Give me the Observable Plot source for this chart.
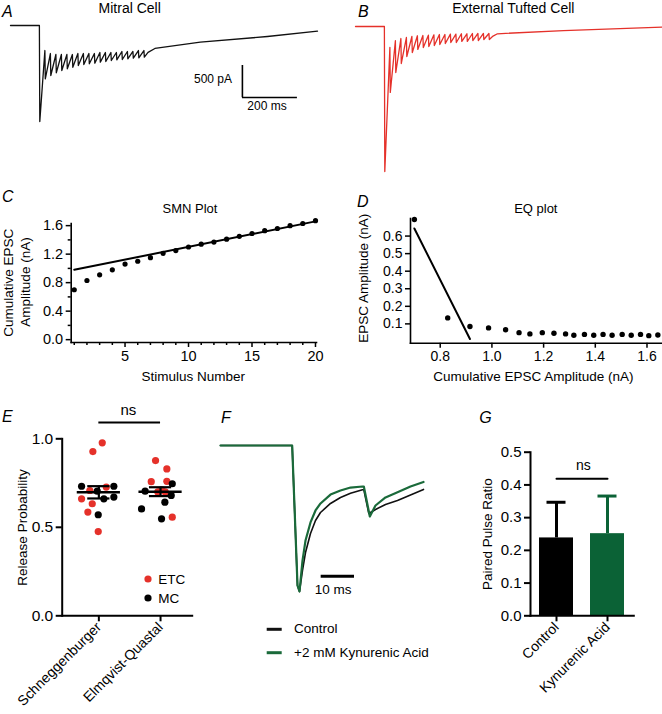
<!DOCTYPE html>
<html><head><meta charset="utf-8">
<script src="https://cdn.jsdelivr.net/npm/d3@7"></script>
<script src="https://cdn.jsdelivr.net/npm/@observablehq/plot@0.6"></script>
<style>
html,body{margin:0;padding:0;background:#fff;}
#fig{position:relative;width:662px;height:714px;overflow:hidden;background:#fff;}
</style></head><body><div id="fig"></div>
<script>
// ---------- DATA ----------
// A / B : EPSC trains (ms, pA)
const traceStart = -105;
const stimTimes = [0,20,40,60,80,100,120,140,160,180,200,220,240,260,280,300,320,340,360,380];
const mitralPreStim = [0,-391,-438,-453,-453,-453,-453,-438,-438,-438,-438,-422,-422,-422,-422,-406,-406,-406,-391,-391];
const mitralTrough = [-1500,-833,-781,-739,-703,-677,-652,-625,-609,-598,-589,-573,-563,-547,-536,-531,-520,-511,-505,-495];
const mitralTailT = [395,420,585,829,1011];
const mitralTailI = [-420,-359,-261,-172,-89];
const tuftedPreStim = [0,-328,-223,-188,-172,-156,-145,-141,-136,-130,-125,-125,-120,-120,-114,-114,-109,-109,-109,-109];
const tuftedTrough = [-2266,-1031,-719,-578,-469,-406,-359,-328,-313,-297,-281,-266,-250,-250,-234,-234,-219,-219,-203,-203];
const tuftedTailT = [395,411,651,1011];
const tuftedTailI = [-150,-114,-63,-8];
const scaleBarMs = 200, scaleBarPA = 500;

// C : SMN plot
const stimulusNumber = [1,2,3,4,5,6,7,8,9,10,11,12,13,14,15,16,17,18,19,20];
const cumulativeAmp = [0.70,0.83,0.91,0.98,1.06,1.10,1.15,1.21,1.25,1.30,1.34,1.37,1.41,1.45,1.49,1.53,1.56,1.60,1.63,1.67];
const smnFitX = [1,20];
const smnFitY = [0.98,1.66];
const cTicksY = [0,0.4,0.8,1.2,1.6];
const cMinorY = [0.2,0.6,1.0,1.4];
const cTicksX = [5,10,15,20];
const cMinorX = [1,2,3,4,6,7,8,9,11,12,13,14,16,17,18,19];

// D : EQ plot
const eqCumAmp = [0.700,0.829,0.915,0.987,1.053,1.105,1.147,1.195,1.240,1.285,1.317,1.358,1.394,1.430,1.465,1.504,1.539,1.575,1.607,1.642];
const eqEpscAmp = [0.694,0.134,0.085,0.077,0.067,0.050,0.043,0.050,0.047,0.043,0.035,0.040,0.035,0.040,0.035,0.040,0.035,0.040,0.033,0.037];
const eqFitX = [0.700,0.915];
const eqFitY = [0.643,0.014];
const dTicksY = [0.1,0.2,0.3,0.4,0.5,0.6];
const dTicksX = [0.8,1.0,1.2,1.4,1.6];

// E : release probability
const eCategories = ["Schneggenburger","Elmqvist-Quastal"];
const schneggP = [0.977,0.928,0.732,0.708,0.727,0.732,0.704,0.661,0.633,0.661,0.671,0.586,0.571,0.476];
const schneggCell = ["ETC","ETC","MC","ETC","ETC","MC","MC","ETC","ETC","MC","MC","ETC","MC","ETC"];
const schneggJitter = [0.055,-0.097,-0.28,-0.146,0.12,0.243,-0.026,-0.28,-0.107,0.081,0.243,-0.178,-0.01,-0.01];
const elmqvistP = [0.877,0.830,0.758,0.760,0.746,0.704,0.700,0.700,0.712,0.680,0.642,0.604,0.548,0.557];
const elmqvistCell = ["ETC","ETC","ETC","ETC","MC","MC","ETC","ETC","ETC","MC","MC","MC","MC","ETC"];
const elmqvistJitter = [-0.081,0.102,-0.151,0.102,0.19,-0.25,-0.044,0.076,0.02,0.173,0.07,-0.308,0.016,0.19];
const eTicksY = [0,0.5,1.0];
const eNsLevel = 1.092;

// F : paired EPSCs (ms, normalized amplitude)
const controlT = [-21.5,0,1.6,2.2,3.1,4.0,5.5,7.0,8.5,11.5,14.5,17.5,21.1,21.5,23.0,25.0,28.0,31.6,35.5,39.4];
const controlI = [0,0,-0.959,-1.0,-0.856,-0.733,-0.603,-0.514,-0.459,-0.397,-0.356,-0.327,-0.303,-0.303,-0.466,-0.438,-0.404,-0.377,-0.339,-0.301];
const kynT = [-21.5,0,1.6,2.2,3.1,4.0,5.5,7.0,8.5,11.5,14.5,17.5,21.1,21.5,23.3,25.0,28.0,31.6,35.5,39.4];
const kynI = [0,0,-0.959,-1.0,-0.788,-0.651,-0.527,-0.445,-0.397,-0.336,-0.308,-0.288,-0.281,-0.281,-0.486,-0.411,-0.356,-0.320,-0.281,-0.250];
const fScaleMs = 10;

// G : paired pulse ratio
const gCategories = ["Control","Kynurenic Acid"];
const pprMean = [0.238,0.251];
const pprSem = [0.109,0.115];
const gColors = ["#000000","#0b6236"];
const gTicksY = [0,0.1,0.2,0.3,0.4,0.5];
const gNsLevel = 0.419;

// ---------- HELPERS ----------
const FONT = '"Liberation Sans", Arial, Helvetica, sans-serif';
const RED = "#e5312a", GREEN = "#1a6a3a";
const fig = document.getElementById("fig");
function place(node, left, top) {
  node.style.position = "absolute";
  node.style.left = left + "px";
  node.style.top = top + "px";
  fig.appendChild(node);
}
const st = (fs) => ({background:"transparent", overflow:"visible", fontFamily:FONT, fontSize:fs+"px", color:"#000"});

function buildTrace(pre, trough, tailT, tailI) {
  const pts = [{t: traceStart, i: 0}];
  stimTimes.forEach((s, k) => { pts.push({t: s, i: pre[k]}); pts.push({t: s + 1.5, i: trough[k]}); });
  tailT.forEach((t, k) => pts.push({t, i: tailI[k]}));
  return pts;
}

// ---------- A ----------
const traceA = buildTrace(mitralPreStim, mitralTrough, mitralTailT, mitralTailI);
place(Plot.plot({
  width: 330, height: 180, marginLeft: 10, marginRight: 13, marginTop: 25, marginBottom: 59,
  x: {domain: [traceStart, 1011], axis: null}, y: {domain: [-1500, 0], axis: null},
  style: st(12),
  marks: [
    Plot.line(traceA, {x: "t", y: "i", stroke: "#111", strokeWidth: 1.3, strokeLinejoin: "round"}),
    Plot.ruleX([738], {y1: -1125, y2: -1125 + scaleBarPA, strokeWidth: 1.6}),
    Plot.ruleY([-1125], {x1: 738, x2: 738 + scaleBarMs, strokeWidth: 1.6})
  ]
}), 0, 0);

// ---------- B ----------
const traceB = buildTrace(tuftedPreStim, tuftedTrough, tuftedTailT, tuftedTailI);
place(Plot.plot({
  width: 332, height: 180, marginLeft: 25, marginRight: 0, marginTop: 26, marginBottom: 9,
  x: {domain: [traceStart, 1011], axis: null}, y: {domain: [-2266, 0], axis: null},
  style: st(12),
  marks: [
    Plot.line(traceB, {x: "t", y: "i", stroke: RED, strokeWidth: 1.3, strokeLinejoin: "round"})
  ]
}), 330, 0);

// ---------- C ----------
const smn = stimulusNumber.map((n, k) => ({n, v: cumulativeAmp[k]}));
const smnFit = smnFitX.map((n, k) => ({n, v: smnFitY[k]}));
place(Plot.plot({
  width: 330, height: 200, marginLeft: 70.7, marginRight: 14, marginTop: 33, marginBottom: 48,
  x: {domain: [0.76, 20.08]}, y: {domain: [-0.04, 1.63]},
  style: st(14.5),
  marks: [
    Plot.frame({anchor: "left", strokeWidth: 1.6}),
    Plot.frame({anchor: "bottom", strokeWidth: 1.6}),
    Plot.axisY({ticks: cTicksY, tickFormat: d3.format(".1f"), tickSize: 5, tickPadding: 3, strokeWidth: 1.5, label: null, fontSize: 14.5}),
    Plot.axisY({ticks: cMinorY, tickFormat: () => "", tickSize: 3, strokeWidth: 1.5, label: null}),
    Plot.axisX({ticks: cTicksX, tickSize: 5, tickPadding: 3, strokeWidth: 1.5, label: null, fontSize: 14.5}),
    Plot.axisX({ticks: cMinorX, tickFormat: () => "", tickSize: 3, strokeWidth: 1.5, label: null}),
    Plot.line(smnFit, {x: "n", y: "v", strokeWidth: 2}),
    Plot.dot(smn, {x: "n", y: "v", r: 2.6, fill: "#000", stroke: "none"})
  ]
}), 0, 190);

// ---------- D ----------
const eq = eqCumAmp.map((c, k) => ({c, a: eqEpscAmp[k]}));
const eqFit = eqFitX.map((c, k) => ({c, a: eqFitY[k]}));
place(Plot.plot({
  width: 332, height: 200, marginLeft: 80, marginRight: 0, marginTop: 28, marginBottom: 47.3,
  x: {domain: [0.685, 1.66]}, y: {domain: [-0.01, 0.70]},
  style: st(14),
  marks: [
    Plot.frame({anchor: "left", strokeWidth: 1.6}),
    Plot.frame({anchor: "bottom", strokeWidth: 1.6}),
    Plot.axisY({ticks: dTicksY, tickFormat: d3.format(".1f"), tickSize: 5, tickPadding: 3, strokeWidth: 1.5, label: null, fontSize: 14}),
    Plot.axisX({ticks: dTicksX, tickFormat: d3.format(".1f"), tickSize: 5, tickPadding: 3, strokeWidth: 1.5, label: null, fontSize: 14}),
    Plot.line(eqFit, {x: "c", y: "a", strokeWidth: 2}),
    Plot.dot(eq, {x: "c", y: "a", r: 2.7, fill: "#000", stroke: "none"})
  ]
}), 330, 190);

// ---------- E ----------
const eData = [
  ...schneggP.map((p, k) => ({g: 0, x: schneggJitter[k], p, cell: schneggCell[k]})),
  ...elmqvistP.map((p, k) => ({g: 1, x: 1 + elmqvistJitter[k], p, cell: elmqvistCell[k]}))
];
const eStats = [schneggP, elmqvistP].map((arr, g) => {
  const m = d3.mean(arr), s = d3.deviation(arr) / Math.sqrt(arr.length);
  return {g, m, lo: m - s, hi: m + s};
});
place(Plot.plot({
  width: 200, height: 330, marginLeft: 61.7, marginRight: 8.3, marginTop: 48.3, marginBottom: 104.7,
  x: {domain: [-0.594, 1.513]}, y: {domain: [0, 1]},
  style: st(15.5),
  marks: [
    Plot.frame({anchor: "left", strokeWidth: 2}),
    Plot.frame({anchor: "bottom", strokeWidth: 2}),
    Plot.axisY({ticks: eTicksY, tickFormat: d3.format(".1f"), tickSize: 6, tickPadding: 3, strokeWidth: 2, label: null, fontSize: 15.5}),
    Plot.axisX({ticks: [0, 1], tickFormat: (i) => eCategories[i], tickSize: 6, tickPadding: 3, tickRotate: -45, strokeWidth: 2, label: null, fontSize: 14}),
    Plot.dot(eData, {x: "x", y: "p", r: 3.6, fill: (d) => d.cell === "ETC" ? RED : "#000", stroke: "none"}),
    Plot.ruleY(eStats, {y: "m", x1: (d) => d.g - 0.35, x2: (d) => d.g + 0.35, strokeWidth: 2.5}),
    Plot.ruleX(eStats, {x: "g", y1: "lo", y2: "hi", strokeWidth: 2.2}),
    Plot.ruleY(eStats, {y: "lo", x1: (d) => d.g - 0.18, x2: (d) => d.g + 0.18, strokeWidth: 2.2}),
    Plot.ruleY(eStats, {y: "hi", x1: (d) => d.g - 0.18, x2: (d) => d.g + 0.18, strokeWidth: 2.2}),
    Plot.ruleY([eNsLevel], {x1: 0, x2: 1, strokeWidth: 2})
  ]
}), 0, 390);

// ---------- F ----------
const fControl = controlT.map((t, k) => ({t, i: controlI[k]}));
const fKyn = kynT.map((t, k) => ({t, i: kynI[k]}));
place(Plot.plot({
  width: 250, height: 230, marginLeft: 20, marginRight: 27, marginTop: 55, marginBottom: 29,
  x: {domain: [-21.5, 39.4], axis: null}, y: {domain: [-1, 0], axis: null},
  style: st(13.5),
  marks: [
    Plot.line(fControl, {x: "t", y: "i", stroke: "#111", strokeWidth: 1.6, strokeLinejoin: "round"}),
    Plot.line(fKyn, {x: "t", y: "i", stroke: GREEN, strokeWidth: 2.2, strokeLinejoin: "round"}),
    Plot.ruleY([-0.895], {x1: 8.7, x2: 8.7 + fScaleMs, strokeWidth: 3})
  ]
}), 200, 390);

// ---------- G ----------
const gData = gCategories.map((c, k) => ({c, m: pprMean[k], top: pprMean[k] + pprSem[k], col: gColors[k]}));
place(Plot.plot({
  width: 212, height: 330, marginLeft: 80, marginRight: 28.7, marginTop: 61.7, marginBottom: 104.7,
  x: {domain: gCategories, paddingInner: 0.34, paddingOuter: 0.18},
  y: {domain: [0, 0.5]},
  color: {type: "identity"},
  style: st(15),
  marks: [
    Plot.ruleX(gData, {x: "c", y1: "m", y2: "top", stroke: "col", strokeWidth: 3}),
    Plot.tickY(gData, {x: "c", y: "top", stroke: "col", strokeWidth: 3, insetLeft: 7.5, insetRight: 7.5}),
    Plot.barY(gData, {x: "c", y: "m", fill: "col"}),
    Plot.frame({anchor: "left", strokeWidth: 2}),
    Plot.frame({anchor: "bottom", strokeWidth: 2}),
    Plot.axisY({ticks: gTicksY, tickFormat: d3.format(".1f"), tickSize: 6, tickPadding: 3, strokeWidth: 2, label: null, fontSize: 15}),
    Plot.axisX({tickSize: 6, tickPadding: 3, tickRotate: -45, strokeWidth: 2, label: null, fontSize: 14}),
    Plot.line([{c: gCategories[0], v: gNsLevel}, {c: gCategories[1], v: gNsLevel}], {x: "c", y: "v", strokeWidth: 2})
  ]
}), 450, 390);

// ---------- TEXT OVERLAY ----------
const ov = d3.select(fig).append("svg")
  .attr("width", 662).attr("height", 714)
  .style("position", "absolute").style("left", "0px").style("top", "0px")
  .style("font-family", FONT).style("pointer-events", "none");
function label(x, y, txt, {size = 13.5, anchor = "start", italic = false, rotate = 0, fill = "#000"} = {}) {
  const t = ov.append("text")
    .attr("transform", `translate(${x},${y})` + (rotate ? ` rotate(${rotate})` : ""))
    .attr("text-anchor", anchor).attr("font-size", size).attr("fill", fill).text(txt);
  if (italic) t.attr("font-style", "italic");
}
// A, B
label(2, 16.7, "A", {size: 16, italic: true});
label(129.7, 13.3, "Mitral Cell", {size: 14, anchor: "middle"});
label(358, 16.7, "B", {size: 16, italic: true});
label(513.3, 13.3, "External Tufted Cell", {size: 14, anchor: "middle"});
label(232, 83.3, `${scaleBarPA} pA`, {size: 12, anchor: "end"});
label(267, 110, `${scaleBarMs} ms`, {size: 12, anchor: "middle"});
// C
label(2, 202, "C", {size: 16, italic: true});
label(190, 213.3, "SMN Plot", {size: 13, anchor: "middle"});
label(13.3, 282.7, "Cumulative EPSC", {rotate: -90, anchor: "middle"});
label(30, 282, "Amplitude (nA)", {rotate: -90, anchor: "middle"});
label(193.3, 380.7, "Stimulus Number", {anchor: "middle"});
// D
label(357, 206.7, "D", {size: 16, italic: true});
label(535.8, 213.3, "EQ plot", {size: 13, anchor: "middle"});
label(368, 278.3, "EPSC Amplitude (nA)", {rotate: -90, anchor: "middle"});
label(533.3, 380.7, "Cumulative EPSC Amplitude (nA)", {anchor: "middle"});
// E
label(2, 421.7, "E", {size: 16, italic: true});
label(128.3, 415, "ns", {size: 15, anchor: "middle"});
label(27.3, 527.5, "Release Probability", {rotate: -90, anchor: "middle"});
ov.append("circle").attr("cx", 148).attr("cy", 579).attr("r", 3.6).attr("fill", RED);
label(158.3, 583.8, "ETC");
ov.append("circle").attr("cx", 148).attr("cy", 598).attr("r", 3.6).attr("fill", "#000");
label(158.3, 602.7, "MC");
// F
label(221, 423, "F", {size: 16, italic: true});
label(333, 594, `${fScaleMs} ms`, {anchor: "middle"});
ov.append("line").attr("x1", 266.7).attr("x2", 281.7).attr("y1", 629.3).attr("y2", 629.3).attr("stroke", "#111").attr("stroke-width", 3);
label(294, 633.3, "Control");
ov.append("line").attr("x1", 266.7).attr("x2", 281.7).attr("y1", 652.7).attr("y2", 652.7).attr("stroke", GREEN).attr("stroke-width", 3);
label(294, 656.7, "+2 mM Kynurenic Acid");
// G
label(479.3, 423, "G", {size: 16, italic: true});
label(583.3, 470, "ns", {size: 14, anchor: "middle"});
label(491.7, 534.2, "Paired Pulse Ratio", {rotate: -90, anchor: "middle"});
</script></body></html>
